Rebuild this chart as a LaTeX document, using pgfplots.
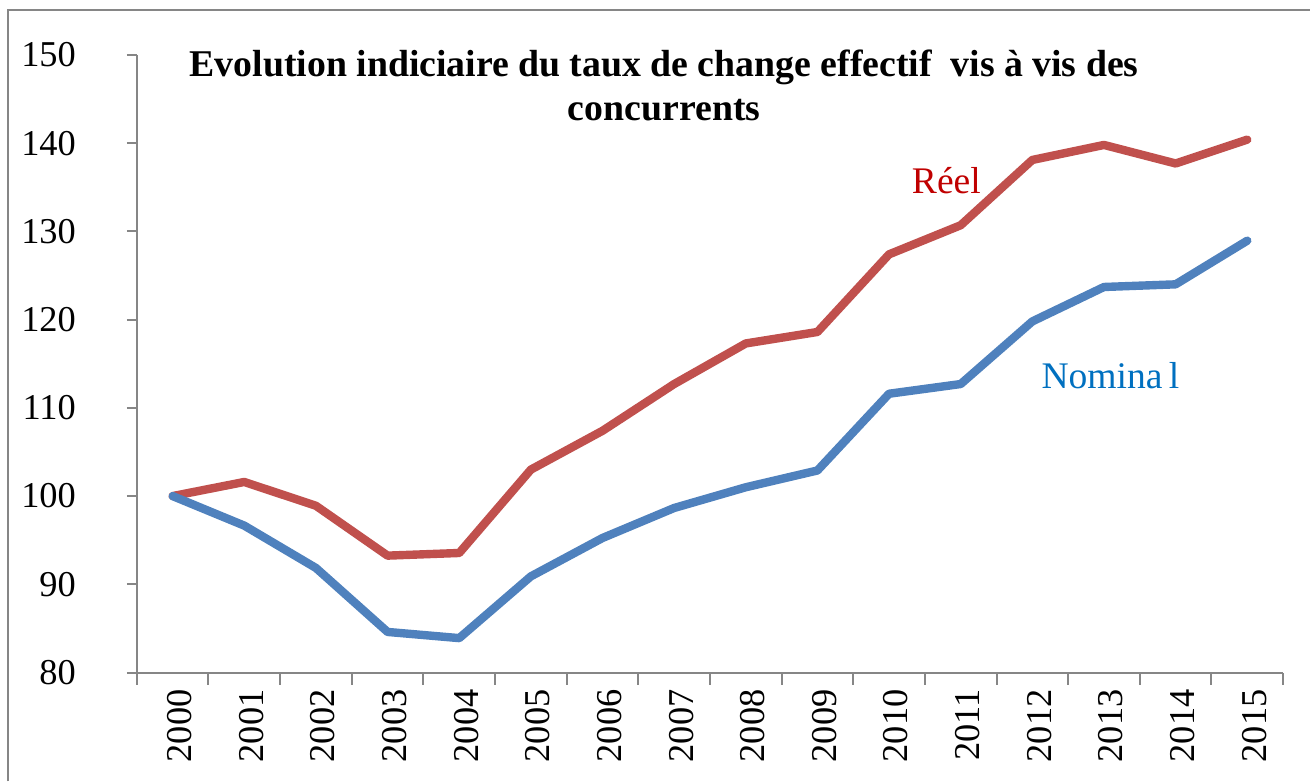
\documentclass[border=0pt]{standalone}
\usepackage{pgfplots}
\pgfplotsset{compat=1.18}
\usepackage{fontspec}
\setmainfont{Liberation Serif}
\definecolor{reelline}{HTML}{C0504D}
\definecolor{nomline}{HTML}{4F81BD}
\definecolor{reeltext}{HTML}{C00000}
\definecolor{nomtext}{HTML}{0070C0}
\definecolor{axgray}{HTML}{868686}
\begin{document}
\begin{tikzpicture}
\begin{axis}[
  scale only axis,
  width=573.5pt, height=309pt,
  xmin=-0.5, xmax=15.5,
  ymin=80, ymax=150,
  ytick={80,90,...,150},
  xtick={0,...,15},
  xticklabels={2000,2001,2002,2003,2004,2005,2006,2007,2008,2009,2010,2011,2012,2013,2014,2015},
  minor xtick={-0.5,0.5,...,15.5},
  major x tick style={draw=none},
  minor x tick style={axgray, line width=1pt},
  y tick style={axgray, line width=1pt},
  major tick length=5pt,
  minor tick length=6pt,
  tick align=outside,
  axis lines*=left,
  axis line style={axgray, line width=1pt},
  /pgf/number format/assume math mode=true,
  ticklabel style={font=\fontsize{18.2}{21}\selectfont, text=black},
  yticklabel style={anchor=east, xshift=-22pt},
  xticklabel style={rotate=90, anchor=east, xshift=0pt, yshift=-3.5pt},
  clip=false,
]
\addplot[reelline, line width=4.2pt, line join=round, line cap=round] coordinates {
(0,100) (1,101.6) (2,98.9) (3,93.25) (4,93.55) (5,103.0) (6,107.4) (7,112.7)
(8,117.3) (9,118.6) (10,127.4) (11,130.7) (12,138.1) (13,139.8) (14,137.7) (15,140.4)};
\addplot[nomline, line width=4.2pt, line join=round, line cap=round] coordinates {
(0,100) (1,96.65) (2,91.85) (3,84.6) (4,83.9) (5,90.9) (6,95.25) (7,98.65)
(8,101.0) (9,102.9) (10,111.6) (11,112.7) (12,119.8) (13,123.7) (14,124.0) (15,128.95)};
\node[font=\fontsize{18.9}{22}\selectfont\bfseries, align=center] at (rel axis cs:0.46,0.95)
  {Evolution indiciaire du taux de change effectif\ \ vis à vis des\\concurrents};
\node[font=\fontsize{18.8}{21}\selectfont, text=reeltext] at (axis cs:10.8,135.8) {Réel};
\node[font=\fontsize{18.8}{21}\selectfont, text=nomtext] at (axis cs:13.09,113.6) {Nomina\,l};
\draw[axgray, line width=1pt] (rel axis cs:-0.1125,-0.1764) -- (rel axis cs:-0.1125,1.0728) -- (rel axis cs:1.0235,1.0728);
\path (rel axis cs:-0.1194,-0.1764) rectangle (rel axis cs:1.0235,1.089);
\end{axis}
\end{tikzpicture}
\end{document}
